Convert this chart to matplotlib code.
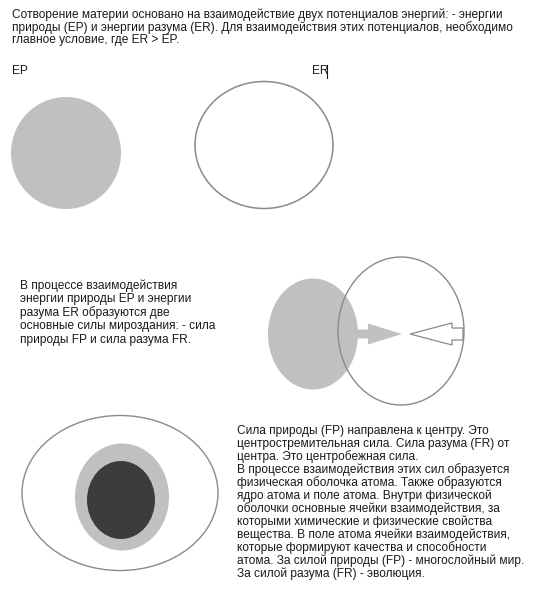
import matplotlib
matplotlib.use("Agg")
import matplotlib.pyplot as plt
from matplotlib.patches import Ellipse, Polygon

plt.rcParams['font.family'] = ['Liberation Sans', 'DejaVu Sans']

# ---- texts ----
top_lines = [
    "Сотворение материи основано на взаимодействие двух потенциалов энергий: - энергии",
    "природы (EP) и энергии разума (ER). Для взаимодействия этих потенциалов, необходимо",
    "главное условие, где ER > EP.",
]
label_ep = "EP"
label_er = "ER"
mid_lines = [
    "В процессе взаимодействия",
    "энергии природы EP и энергии",
    "разума ER образуются две",
    "основные силы мироздания: - сила",
    "природы FP и сила разума FR.",
]
bottom_lines = [
    "Сила природы (FP) направлена к центру. Это",
    "центростремительная сила. Сила разума (FR) от",
    "центра. Это центробежная сила.",
    "В процессе взаимодействия этих сил образуется",
    "физическая оболочка атома. Также образуются",
    "ядро атома и поле атома. Внутри физической",
    "оболочки основные ячейки взаимодействия, за",
    "которыми химические и физические свойства",
    "вещества. В поле атома ячейки взаимодействия,",
    "которые формируют качества и способности",
    "атома. За силой природы (FP) - многослойный мир.",
    "За силой разума (FR) - эволюция.",
]

# ---- shapes: (center x, center y, width, height) in pixel units ----
ep_circle = (66, 153, 110, 112)
er_circle = (264, 145, 138, 127)
ep_mid = (313, 334, 90, 111)
er_mid = (401, 331, 126, 148)
atom_field = (120, 493, 196, 155)
atom_shell = (122, 497, 94, 107)
atom_core = (121, 500, 68, 78)

# arrows: (tail x, tip x, center y, shaft half-height, head half-height, head length)
fp_arrow = (357, 402, 334, 4.5, 10.5, 34)
fr_arrow = (463, 410, 334, 6, 11, 42)

GRAY = "#c0c0c0"
LINE = "#8a8a8a"
DARK = "#3c3c3c"
TXT = "#1a1a1a"

fig = plt.figure(figsize=(5.33, 5.92), dpi=100)
ax = fig.add_axes([0, 0, 1, 1])
ax.set_xlim(0, 533)
ax.set_ylim(592, 0)
ax.axis("off")


def ell(spec, fc, ec, lw=1.0, z=1):
    x, y, w, h = spec
    ax.add_patch(Ellipse((x, y), w, h, facecolor=fc, edgecolor=ec, linewidth=lw, zorder=z))


def arrow(spec, fc, ec, z=3):
    x0, x1, y, sh, hh, hl = spec
    d = 1 if x1 > x0 else -1
    xb = x1 - d * hl
    pts = [(x0, y - sh), (xb, y - sh), (xb, y - hh), (x1, y), (xb, y + hh), (xb, y + sh), (x0, y + sh)]
    ax.add_patch(Polygon(pts, closed=True, facecolor=fc, edgecolor=ec, linewidth=0.9, zorder=z))


# top row
ell(ep_circle, GRAY, "none")
ell(er_circle, "none", LINE, 1.1)

# middle
ell(ep_mid, GRAY, "none", z=1)
arrow(fp_arrow, GRAY, "none")
arrow(fr_arrow, "white", LINE)
ell(er_mid, "none", LINE, 1.0, z=4)

# atom
ell(atom_field, "white", LINE, 1.0)
ell(atom_shell, GRAY, "none", z=2)
ell(atom_core, DARK, "none", z=3)

fs = 8.6
for i, s in enumerate(top_lines):
    ax.text(12, 15 + i * 12.4, s, fontsize=fs, color=TXT, va="center", ha="left")
ax.text(12, 71, label_ep, fontsize=fs, color=TXT, va="center", ha="left")
ax.text(312, 71, label_er, fontsize=fs, color=TXT, va="center", ha="left")
ax.plot([327, 327], [65, 78], color=TXT, lw=0.8)

for i, s in enumerate(mid_lines):
    ax.text(20, 285.5 + i * 13.6, s, fontsize=fs, color=TXT, va="center", ha="left")

for i, s in enumerate(bottom_lines):
    ax.text(237, 431 + i * 13.0, s, fontsize=fs, color=TXT, va="center", ha="left")

fig.savefig("out.png", dpi=100, facecolor="white")
